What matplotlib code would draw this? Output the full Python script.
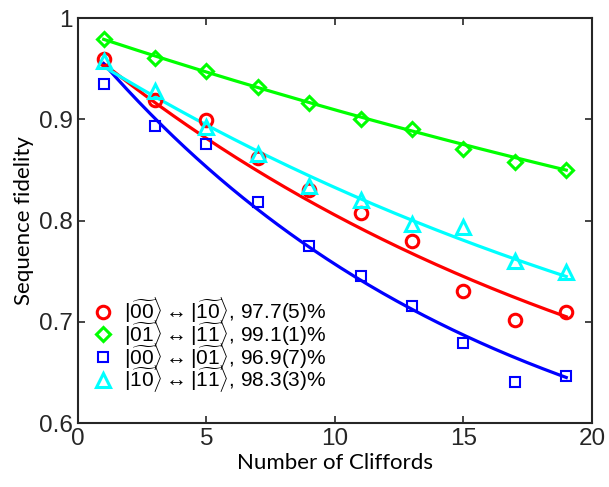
import numpy as np
import matplotlib
matplotlib.use("Agg")
import matplotlib.pyplot as plt

plt.rcParams["font.family"] = ["Liberation Sans", "DejaVu Sans"]
plt.rcParams["mathtext.fontset"] = "custom"
plt.rcParams["mathtext.rm"] = "Liberation Sans"
plt.rcParams["mathtext.it"] = "Liberation Sans:italic"
plt.rcParams["mathtext.bf"] = "Liberation Sans:bold"

# Clifford sequence lengths
cliffords = [1, 3, 5, 7, 9, 11, 13, 15, 17, 19]

fid_00_10 = [0.960, 0.919, 0.899, 0.862, 0.830, 0.808, 0.780, 0.731, 0.702, 0.710]
fid_01_11 = [0.979, 0.961, 0.948, 0.932, 0.916, 0.900, 0.890, 0.871, 0.858, 0.850]
fid_00_01 = [0.935, 0.893, 0.876, 0.818, 0.775, 0.745, 0.716, 0.679, 0.641, 0.647]
fid_10_11 = [0.958, 0.928, 0.892, 0.866, 0.834, 0.820, 0.797, 0.794, 0.760, 0.749]

# fit F = A * p**m + B, parameters estimated from the drawn curves
fit_A = [0.4756, 0.4874, 0.4848, 0.4677]
fit_p = [0.9567, 0.9827, 0.9385, 0.9665]
fit_B = [0.5, 0.5, 0.5, 0.5]

labels = [
    r"$|\widetilde{00}\rangle \leftrightarrow |\widetilde{10}\rangle$, 97.7(5)%",
    r"$|\widetilde{01}\rangle \leftrightarrow |\widetilde{11}\rangle$, 99.1(1)%",
    r"$|\widetilde{00}\rangle \leftrightarrow |\widetilde{01}\rangle$, 96.9(7)%",
    r"$|\widetilde{10}\rangle \leftrightarrow |\widetilde{11}\rangle$, 98.3(3)%",
]

colors = ["#ff0000", "#00ff00", "#0000ff", "#00ffff"]
markers = ["o", "D", "s", "^"]
msizes = [9, 7.5, 6.5, 10]
mews = [2.2, 2.2, 1.5, 2.2]

fig = plt.figure(figsize=(6.09, 4.87), dpi=100)
ax = fig.add_axes([0.128, 0.131, 0.844, 0.832])

all_fid = [fid_00_10, fid_01_11, fid_00_01, fid_10_11]
m_fine = np.linspace(1, 19, 200)
for i, fid in enumerate(all_fid):
    ax.plot(m_fine, fit_A[i] * fit_p[i] ** m_fine + fit_B[i], color=colors[i], lw=2.3, zorder=2)
    ax.plot(cliffords, fid, linestyle="none", marker=markers[i], ms=msizes[i],
            mfc="none", mec=colors[i], mew=mews[i], label=labels[i], zorder=3)

ax.set_xlim(0, 20)
ax.set_ylim(0.6, 1.0)
ax.set_xticks([0, 5, 10, 15, 20])
ax.set_yticks([0.6, 0.7, 0.8, 0.9, 1.0])
ax.set_yticklabels(["0.6", "0.7", "0.8", "0.9", "1"])
ax.tick_params(direction="in", top=True, right=True, labelsize=17.5,
               colors="#262626", length=5, width=1.2)
for s in ax.spines.values():
    s.set_color("#262626")
    s.set_linewidth(1.5)

ax.set_xlabel("Number of Cliffords", fontsize=16, family="Lato", labelpad=2)
ax.set_ylabel("Sequence fidelity", fontsize=16, family="Lato", labelpad=4)

ax.legend(loc="lower left", bbox_to_anchor=(0.0, 0.035), frameon=False, fontsize=15,
          handlelength=1.0, handletextpad=0.5, labelspacing=-0.4, borderaxespad=0.3)

fig.savefig("out.png", dpi=100)
